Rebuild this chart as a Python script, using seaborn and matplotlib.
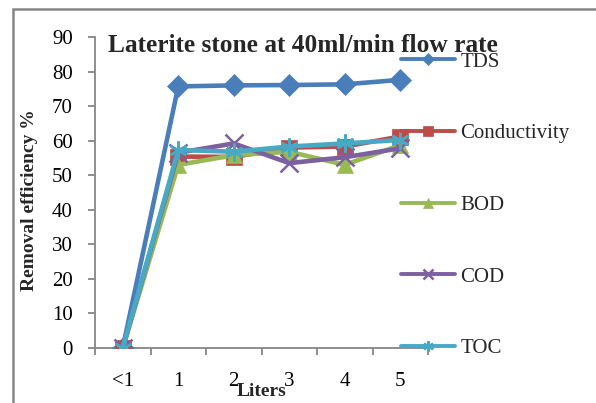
import matplotlib
matplotlib.use("Agg")
import matplotlib.pyplot as plt
import seaborn as sns
import pandas as pd
from matplotlib.patches import Rectangle

categories = ["<1", "1", "2", "3", "4", "5"]
tds = [0, 75.7, 76.0, 76.1, 76.3, 77.6]
conductivity = [0, 55.4, 55.3, 58.0, 58.3, 61.2]
bod = [0, 53.0, 55.8, 56.8, 53.0, 58.7]
cod = [0, 56.5, 59.2, 53.5, 55.2, 57.8]
toc = [0, 57.3, 56.8, 58.3, 59.2, 60.2]

series = {
    "TDS": tds,
    "Conductivity": conductivity,
    "BOD": bod,
    "COD": cod,
    "TOC": toc,
}
colors = {
    "TDS": "#4A7EBB",
    "Conductivity": "#BE4B48",
    "BOD": "#98B954",
    "COD": "#7D60A0",
    "TOC": "#46AAC5",
}
markers = {"TDS": "D", "Conductivity": "s", "BOD": "^", "COD": "x", "TOC": (6, 2, 0)}
msizes = {"TDS": 11, "Conductivity": 11, "BOD": 11, "COD": 13, "TOC": 13}

sns.set_theme(style="white")
plt.rcParams["font.family"] = ["Liberation Serif", "DejaVu Serif"]

fig = plt.figure(figsize=(5.96, 4.03), dpi=100)
ax = fig.add_axes([95 / 596, 1 - 348 / 403, (428 - 95) / 596, (348 - 37) / 403])

rows = []
for name, vals in series.items():
    for c, v in zip(categories, vals):
        rows.append({"Liters": c, "value": v, "series": name})
df = pd.DataFrame(rows)

for name in series:
    sub = df[df["series"] == name]
    sns.lineplot(data=sub, x="Liters", y="value", ax=ax, color=colors[name],
                 marker=markers[name], markersize=msizes[name], linewidth=3.3,
                 markeredgecolor=colors[name], markeredgewidth=1.8 if name in ("COD", "TOC") else 0.5,
                 label=name, sort=False, zorder=3)

ax.set_xlim(-0.5, len(categories) - 0.5)
ax.set_ylim(0, 90)
ax.set_yticks(range(0, 91, 10))
ax.set_xticks(range(len(categories)))
ax.set_xticklabels(categories)
ax.set_xticks([i - 0.5 for i in range(len(categories) + 1)], minor=True)

axis_col = "#868686"
for s in ["top", "right"]:
    ax.spines[s].set_visible(False)
for s in ["left", "bottom"]:
    ax.spines[s].set_color(axis_col)
    ax.spines[s].set_linewidth(1.3)

ax.tick_params(axis="y", which="major", direction="out", length=5, width=1.3,
               color=axis_col, labelsize=15, pad=11, left=True, labelcolor="black")
ax.tick_params(axis="x", which="major", length=0, labelsize=15, pad=17, labelcolor="black")
ax.tick_params(axis="x", which="minor", direction="out", length=5, width=1.3,
               color=axis_col, bottom=True)

ax.set_ylabel("")
ax.set_xlabel("")
fig.text(30 / 596, 1 - 200 / 403, "Removal efficiency %", rotation=90, fontsize=14,
         fontweight="bold", ha="center", va="center")
fig.text(262 / 596, 1 - 392 / 403, "Liters", fontsize=14, fontweight="bold",
         ha="center", va="center")
fig.text(108 / 596, 1 - 45 / 403, "Laterite stone at 40ml/min flow rate", fontsize=18.3,
         fontweight="bold", ha="left", va="center")

leg = ax.legend(loc="upper left", bbox_to_anchor=(401 / 596, 1 - 52 / 403),
                bbox_transform=fig.transFigure, frameon=False, fontsize=15,
                labelspacing=2.5, handlelength=2.6, handletextpad=0.25,
                borderpad=0, borderaxespad=0, markerscale=0.6)
for line in leg.get_lines():
    line.set_linewidth(2.8)

fig.patches.append(Rectangle((13 / 596, -0.1), 1.2, (1 - 9 / 403) + 0.1,
                             transform=fig.transFigure, fill=False,
                             edgecolor=axis_col, linewidth=1.8, zorder=0))

fig.savefig("out.png", dpi=100)
